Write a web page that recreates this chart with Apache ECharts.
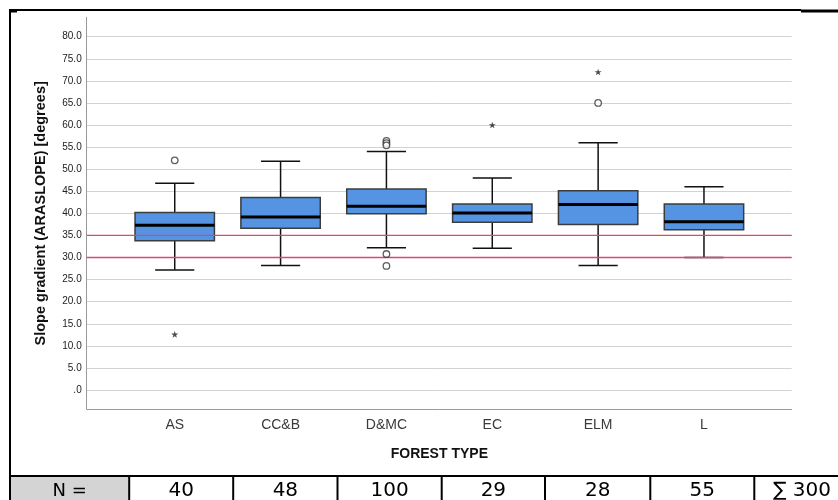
<!DOCTYPE html>
<html>
<head>
<meta charset="utf-8">
<script src="https://cdn.jsdelivr.net/npm/echarts@6/dist/echarts.min.js"></script>
<style>
html,body{margin:0;padding:0;background:#fff;}
#chart{width:838px;height:500px;}
</style>
</head>
<body>
<div id="chart"></div>
<script>
// ---------- data ----------
const categories = ['AS', 'CC&B', 'D&MC', 'EC', 'ELM', 'L'];
const lowerWhisker = [27.2, 28.2, 32.2, 32.1, 28.2, 30.0];
const q1 = [33.8, 36.6, 39.9, 38.0, 37.5, 36.3];
const median = [37.3, 39.2, 41.6, 40.1, 42.0, 38.1];
const q3 = [40.2, 43.6, 45.5, 42.1, 45.1, 42.1];
const upperWhisker = [46.8, 51.8, 54.0, 48.0, 56.0, 46.0];
const mildOutliers = [['AS', 52.0], ['D&MC', 56.4], ['D&MC', 55.9], ['D&MC', 55.4], ['D&MC', 30.8], ['D&MC', 28.1], ['ELM', 65.0]];
const extremeOutliers = [['AS', 12.6], ['EC', 60.0], ['ELM', 72.0]];
const referenceLines = [35, 30];
const sampleSizes = [40, 48, 100, 29, 28, 55];
const yTitle = 'Slope gradient (ARASLOPE) [degrees]';
const xTitle = 'FOREST TYPE';

// ---------- chart ----------
const chart = echarts.init(document.getElementById('chart'), null, {renderer: 'canvas'});

const boxData = categories.map((c, i) => [i, lowerWhisker[i], q1[i], median[i], q3[i], upperWhisker[i]]);

const starPath = 'path://M0,-10 L2.35,-3.24 L9.51,-3.09 L3.8,1.24 L5.88,8.09 L0,4 L-5.88,8.09 L-3.8,1.24 L-9.51,-3.09 L-2.35,-3.24Z';

const yFmt = v => (v === 0 ? '.0' : v.toFixed(1));

// table graphics
const cellEdges = [10, 129.2, 233.2, 337.5, 441.7, 545, 650.3, 754.3, 838];
const tableTop = 476;
const tableTexts = ['N ='].concat(sampleSizes.map(String)).concat(['\u2211 ' + sampleSizes.reduce((a, b) => a + b, 0)]);
const graphics = [];
graphics.push({type: 'rect', shape: {x: 11, y: tableTop, width: 118.2, height: 30}, style: {fill: '#d4d4d4'}, z: 1});
graphics.push({type: 'line', shape: {x1: 9, y1: tableTop, x2: 838, y2: tableTop}, style: {stroke: '#000', lineWidth: 2}, z: 2});
for (let i = 1; i < cellEdges.length - 1; i++) {
  graphics.push({type: 'line', shape: {x1: cellEdges[i], y1: tableTop, x2: cellEdges[i], y2: 500}, style: {stroke: '#000', lineWidth: 2}, z: 2});
}
tableTexts.forEach((t, i) => {
  let cx = (cellEdges[i] + cellEdges[i + 1]) / 2;
  if (i === tableTexts.length - 1) cx = 802;
  const fs = i === 0 ? 18 : 20;
  graphics.push({type: 'text', x: cx, y: 491, style: {text: t, fill: '#000', font: fs + 'px "DejaVu Sans"', align: 'center', verticalAlign: 'middle'}, z: 3});
});
// frame lines
graphics.push({type: 'line', shape: {x1: 9, y1: 10, x2: 801, y2: 10}, style: {stroke: '#000', lineWidth: 2}, z: 2});
graphics.push({type: 'line', shape: {x1: 801, y1: 11, x2: 838, y2: 11}, style: {stroke: '#000', lineWidth: 3}, z: 2});
graphics.push({type: 'line', shape: {x1: 9, y1: 11, x2: 17, y2: 11}, style: {stroke: '#000', lineWidth: 3}, z: 2});
graphics.push({type: 'line', shape: {x1: 10, y1: 9, x2: 10, y2: 500}, style: {stroke: '#000', lineWidth: 2}, z: 2});

const refData = referenceLines.map(v => [v]);

const option = {
  animation: false,
  backgroundColor: '#fff',
  textStyle: {fontFamily: '"Liberation Sans", Arial, sans-serif'},
  grid: [
    {left: 86.7, right: 46.3, top: 17.3, bottom: 91},
    {left: 86.7, right: 46.3, top: 14.6, bottom: 87.9},
    {left: 121.8, right: 81.1, top: 14.6, bottom: 87.9}
  ],
  xAxis: [
    {gridIndex: 0, type: 'value', min: 0, max: 1, axisLine: {show: true, onZero: false, lineStyle: {color: '#9a9a9a', width: 1}}, axisTick: {show: false}, axisLabel: {show: false}, splitLine: {show: false}},
    {gridIndex: 1, type: 'value', min: 0, max: 1, show: false},
    {gridIndex: 2, type: 'category', data: categories,
      axisLine: {show: false}, axisTick: {show: false},
      axisLabel: {fontSize: 14, color: '#3a3a3a', margin: 6, fontFamily: '"Liberation Sans", Arial, sans-serif'},
      name: xTitle, nameLocation: 'middle', nameGap: 35,
      nameTextStyle: {fontSize: 14, fontWeight: 'bold', color: '#111', fontFamily: '"Liberation Sans", Arial, sans-serif'}
    }
  ],
  yAxis: [
    {gridIndex: 0, type: 'value', min: 0, max: 1, axisLine: {show: true, onZero: false, lineStyle: {color: '#9a9a9a', width: 1}}, axisTick: {show: false}, axisLabel: {show: false}, splitLine: {show: false}},
    {gridIndex: 1, type: 'value', min: -5, max: 85, interval: 5,
      axisLine: {show: false}, axisTick: {show: false},
      axisLabel: {fontSize: 10, color: '#222', margin: 5, formatter: yFmt, showMinLabel: false, showMaxLabel: false},
      splitLine: {show: true, showMinLine: false, showMaxLine: false, lineStyle: {color: '#d2d2d2', width: 1}},
      name: yTitle, nameLocation: 'middle', nameGap: 38,
      nameTextStyle: {fontSize: 14.5, fontWeight: 'bold', color: '#111', fontFamily: '"Liberation Sans", Arial, sans-serif'}
    },
    {gridIndex: 2, type: 'value', min: -5, max: 85, interval: 5, show: false}
  ],
  series: [
    {
      type: 'custom', xAxisIndex: 2, yAxisIndex: 2, z: 4,
      data: boxData,
      encode: {x: 0, y: [1, 2, 3, 4, 5]},
      renderItem: function (params, api) {
        const x = api.value(0);
        const lo = api.coord([x, api.value(1)]);
        const b1 = api.coord([x, api.value(2)]);
        const md = api.coord([x, api.value(3)]);
        const b3 = api.coord([x, api.value(4)]);
        const hi = api.coord([x, api.value(5)]);
        const band = api.size([1, 0])[0];
        const bw = band * 0.75, cw = band * 0.37;
        const cx = lo[0];
        const ws = {stroke: '#111', lineWidth: 1.5};
        return {type: 'group', children: [
          {type: 'line', shape: {x1: cx, y1: hi[1], x2: cx, y2: b3[1]}, style: ws},
          {type: 'line', shape: {x1: cx, y1: b1[1], x2: cx, y2: lo[1]}, style: ws},
          {type: 'line', shape: {x1: cx - cw / 2, y1: hi[1], x2: cx + cw / 2, y2: hi[1]}, style: ws},
          {type: 'line', shape: {x1: cx - cw / 2, y1: lo[1], x2: cx + cw / 2, y2: lo[1]}, style: ws},
          {type: 'rect', shape: {x: cx - bw / 2, y: b3[1], width: bw, height: b1[1] - b3[1]}, style: {fill: '#5494e2', stroke: '#3c3c3c', lineWidth: 1.5}},
          {type: 'line', shape: {x1: cx - bw / 2, y1: md[1], x2: cx + bw / 2, y2: md[1]}, style: {stroke: '#000', lineWidth: 3}}
        ]};
      }
    },
    {
      type: 'custom', xAxisIndex: 1, yAxisIndex: 1, z: 6, silent: true,
      data: refData,
      encode: {y: 0},
      renderItem: function (params, api) {
        const y = api.coord([0, api.value(0)])[1];
        const x0 = api.coord([0, 0])[0];
        const x1 = api.coord([1, 0])[0];
        return {type: 'line', shape: {x1: x0, y1: y, x2: x1, y2: y}, style: {stroke: '#d94a70', lineWidth: 1.3}};
      }
    },
    {
      type: 'scatter', xAxisIndex: 2, yAxisIndex: 2, z: 7,
      data: mildOutliers,
      symbol: 'circle', symbolSize: 6.5,
      itemStyle: {color: '#fff', borderColor: '#333', borderWidth: 1.3}
    },
    {
      type: 'scatter', xAxisIndex: 2, yAxisIndex: 2, z: 7,
      data: extremeOutliers,
      symbol: starPath, symbolSize: 7, symbolKeepAspect: true,
      itemStyle: {color: '#222'}
    }
  ],
  graphic: graphics
};
chart.setOption(option);
</script>
</body>
</html>
